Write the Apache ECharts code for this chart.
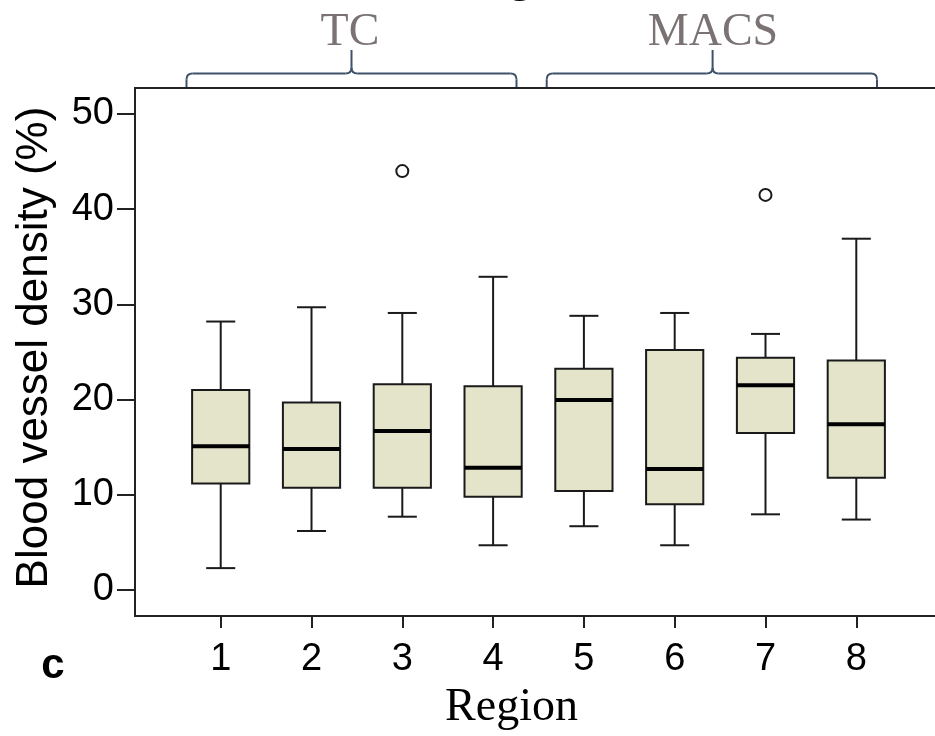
<!DOCTYPE html>
<html>
<head>
<meta charset="utf-8">
<script src="https://cdn.jsdelivr.net/npm/echarts@6/dist/echarts.min.js"></script>
<style>
html,body{margin:0;padding:0;background:#fff;}
#chart{width:935px;height:736px;}
</style>
</head>
<body>
<div id="chart"></div>
<script>
// ---- data ----
const categories = [1, 2, 3, 4, 5, 6, 7, 8];
const whiskerLow  = [2.3, 6.2, 7.7, 4.7, 6.7, 4.7, 7.95, 7.4];
const q1          = [11.2, 10.75, 10.75, 9.8, 10.4, 9.0, 16.5, 11.8];
const median      = [15.1, 14.8, 16.7, 12.85, 19.95, 12.7, 21.5, 17.4];
const q3          = [21.0, 19.7, 21.6, 21.4, 23.25, 25.2, 24.4, 24.1];
const whiskerHigh = [28.2, 29.7, 29.1, 32.9, 28.8, 29.1, 26.9, 36.9];
const outlierRegion = [3, 7];
const outlierValue  = [44.0, 41.5];
const yTicks = [0, 10, 20, 30, 40, 50];
const groupLabels = ['TC', 'MACS'];
const xTitle = 'Region';
const yTitle = 'Blood vessel density (%)';
const panelLetter = 'c';

const boxData = categories.map((c, i) => [c, whiskerLow[i], q1[i], median[i], q3[i], whiskerHigh[i]]);
const outlierData = outlierRegion.map((c, i) => [c, outlierValue[i]]);

const INK = '#1a1a1a';
const BOX_FILL = '#e4e4cb';
const BRACKET = '#3f516a';

function renderBox(params, api) {
  const x = api.value(0);
  const pLo = api.coord([x, api.value(1)]);
  const pQ1 = api.coord([x, api.value(2)]);
  const pMed = api.coord([x, api.value(3)]);
  const pQ3 = api.coord([x, api.value(4)]);
  const pHi = api.coord([x, api.value(5)]);
  const halfW = api.size([0.63, 0])[0] / 2;
  const capHalf = api.size([0.32, 0])[0] / 2;
  const cx = pMed[0];
  const lineStyle = { stroke: INK, lineWidth: 2 };
  return {
    type: 'group',
    children: [
      { type: 'line', shape: { x1: cx, y1: pLo[1], x2: cx, y2: pQ1[1] }, style: lineStyle },
      { type: 'line', shape: { x1: cx, y1: pQ3[1], x2: cx, y2: pHi[1] }, style: lineStyle },
      { type: 'line', shape: { x1: cx - capHalf, y1: pLo[1], x2: cx + capHalf, y2: pLo[1] }, style: lineStyle },
      { type: 'line', shape: { x1: cx - capHalf, y1: pHi[1], x2: cx + capHalf, y2: pHi[1] }, style: lineStyle },
      { type: 'rect', shape: { x: cx - halfW, y: pQ3[1], width: halfW * 2, height: pQ1[1] - pQ3[1] },
        style: { fill: BOX_FILL, stroke: INK, lineWidth: 2 } },
      { type: 'line', shape: { x1: cx - halfW, y1: pMed[1], x2: cx + halfW, y2: pMed[1] },
        style: { stroke: '#000', lineWidth: 4 } }
    ]
  };
}

function bracket(L, C, R) {
  const yH = 73.5, yB = 87, yT = 50, r = 6;
  const st = { stroke: BRACKET, lineWidth: 2, fill: null };
  return [
    { type: 'bezierCurve', shape: { x1: L, y1: yH + r, cpx1: L, cpy1: yH, x2: L + r, y2: yH }, style: st },
    { type: 'line', shape: { x1: L, y1: yH + r, x2: L, y2: yB }, style: st },
    { type: 'line', shape: { x1: L + r, y1: yH, x2: C - r, y2: yH }, style: st },
    { type: 'bezierCurve', shape: { x1: C - r, y1: yH, cpx1: C, cpy1: yH, x2: C, y2: yH - r }, style: st },
    { type: 'line', shape: { x1: C, y1: yH - r, x2: C, y2: yT }, style: st },
    { type: 'bezierCurve', shape: { x1: C, y1: yH - r, cpx1: C, cpy1: yH, x2: C + r, y2: yH }, style: st },
    { type: 'line', shape: { x1: C + r, y1: yH, x2: R - r, y2: yH }, style: st },
    { type: 'bezierCurve', shape: { x1: R - r, y1: yH, cpx1: R, cpy1: yH, x2: R, y2: yH + r }, style: st },
    { type: 'line', shape: { x1: R, y1: yH + r, x2: R, y2: yB }, style: st }
  ];
}

const chart = echarts.init(document.getElementById('chart'), null, { renderer: 'canvas' });

const option = {
  backgroundColor: '#fff',
  animation: false,
  grid: {
    left: 135, top: 88, right: -7, bottom: 120,
    show: true, borderColor: '#222', borderWidth: 2, backgroundColor: 'transparent',
    outerBoundsMode: 'none', containLabel: false
  },
  xAxis: {
    type: 'value', min: 0.056, max: 8.944,
    splitLine: { show: false },
    axisLine: { show: true, onZero: false, lineStyle: { color: '#222', width: 2 } },
    axisTick: { show: true, length: 12, lineStyle: { color: '#222', width: 2 }, customValues: categories },
    axisLabel: {
      customValues: categories, margin: 25, color: '#000',
      fontFamily: 'Liberation Sans', fontSize: 38,
      formatter: v => String(Math.round(v))
    }
  },
  yAxis: {
    type: 'value', min: -2.73, max: 52.73,
    splitLine: { show: false },
    axisLine: { show: true, onZero: false, lineStyle: { color: '#222', width: 2 } },
    axisTick: { show: true, length: 18, lineStyle: { color: '#222', width: 2 }, customValues: yTicks },
    axisLabel: {
      customValues: yTicks, margin: 21, color: '#000',
      fontFamily: 'Liberation Sans', fontSize: 38,
      formatter: v => String(Math.round(v))
    }
  },
  series: [
    {
      type: 'custom', name: 'box', renderItem: renderBox, data: boxData,
      encode: { x: 0, y: [1, 2, 3, 4, 5] }, z: 3
    },
    {
      type: 'scatter', name: 'outliers', data: outlierData,
      symbol: 'circle', symbolSize: 12,
      itemStyle: { color: '#fff', borderColor: INK, borderWidth: 2, opacity: 1 }, z: 4
    }
  ],
  graphic: [
    ...bracket(186.5, 351.5, 516.5),
    ...bracket(546.7, 712.6, 877),
    { type: 'text', x: 350, y: 33, style: { text: groupLabels[0], fill: '#7b7373', font: '46px "Liberation Serif"', align: 'center', verticalAlign: 'middle' } },
    { type: 'text', x: 713, y: 33, style: { text: groupLabels[1], fill: '#7b7373', font: '46px "Liberation Serif"', align: 'center', verticalAlign: 'middle' } },
    { type: 'text', x: 511.5, y: 708, style: { text: xTitle, fill: '#000', font: '46px "Liberation Serif"', align: 'center', verticalAlign: 'middle' } },
    { type: 'text', x: 524, y: -21, style: { text: xTitle, fill: '#000', font: '46px "Liberation Serif"', align: 'center', verticalAlign: 'middle' } },
    { type: 'text', x: 35, y: 347.5, rotation: Math.PI / 2, style: { text: yTitle, fill: '#000', font: '44px "Liberation Sans"', align: 'center', verticalAlign: 'middle' } },
    { type: 'text', x: 53, y: 666, style: { text: panelLetter, fill: '#000', font: 'bold 42px "Liberation Sans"', align: 'center', verticalAlign: 'middle' } }
  ]
};
chart.setOption(option);
</script>
</body>
</html>
